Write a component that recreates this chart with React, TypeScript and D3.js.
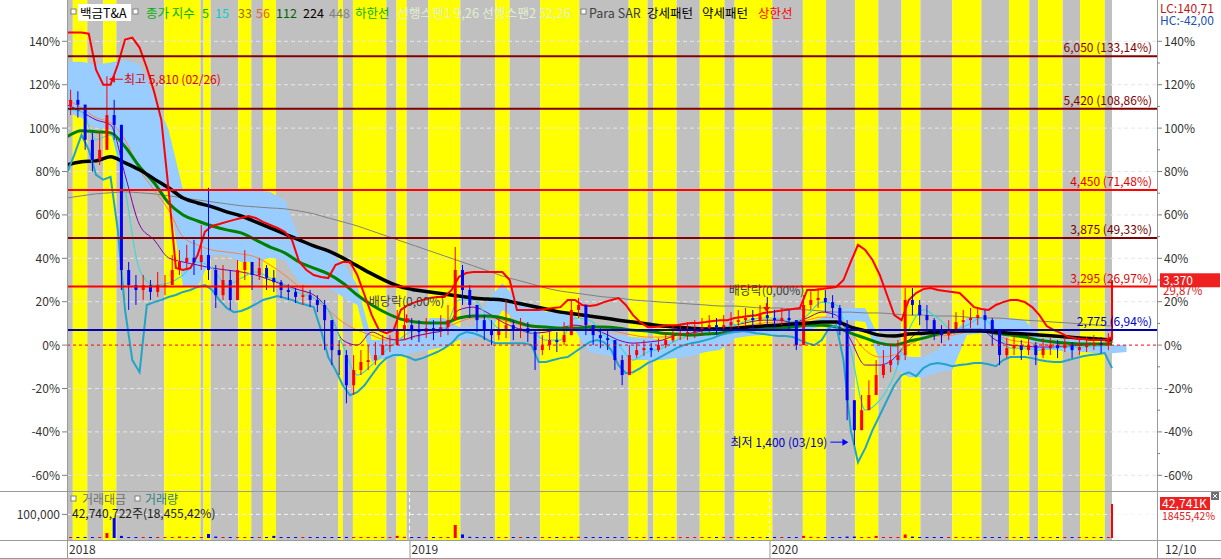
import React from 'react';
import * as d3 from 'd3';

// ---------------- data ----------------
const TOTAL_DAYS = 720; // trading days shown (2018-01-02 .. 2020-12-10)

// regime bands (trading-day index where the shading switches), starting grey
const bandBreaks = [0, 4, 14, 25, 34, 67, 92, 94, 99, 118, 127, 135, 144, 187, 190, 197, 220, 227, 234, 249, 271, 295, 305, 326, 353, 387, 400, 404, 420, 436, 453, 460, 486, 507, 523, 543, 559, 575, 588, 610, 630, 649, 663, 669, 686, 698, 715, 720];
const bandColors = ['#c0c0c0', '#ffff00'];

// weekly candles, % vs base price (last entry = final day 12/10)
const weekClose = [113, 110.8, 94.6, 85.4, 90, 106, 101.5, 34.6, 27.7, 25.4,
  27.7, 24.5, 27.7, 27.7, 34.6, 38.3, 40.2, 38.3, 41.5, 34.6,
  23, 30, 20.8, 34.6, 38.3, 32.3, 35.5, 31, 29, 25.4,
  24.5, 22.2, 23, 20.8, 18.5, 11.5, -2.3, -4.6, -18.5, -11.5,
  -7.8, -6.9, -4.6, 0, 0, 6.9, 9.2, 6.9, 6, 7.8,
  6.9, 8.3, 11.5, 34.6, 25.4, 18.5, 11.5, 6.9, 4.6, 6.9,
  9.2, 6.9, 7.8, 6, -2.3, 0, 2.3, 1.4, 4.6, 16.2,
  18.5, 9.2, 4.6, 3.2, 2.3, -6.9, -13.8, -4.6, -2.3, -1.4,
  -2.3, 0, 2.3, 4.6, 5.5, 6, 6.9, 7.8, 9.2, 8.3,
  9.2, 10.6, 11.5, 12.5, 11.5, 13.8, 12.5, 11.5, 12.5, 11.5,
  0, 18.5, 20.8, 21.7, 19.8, 17.1, 9.2, -25.4, -39.2, -30,
  -23, -13.8, -9.2, -6.9, -4.6, 20.8, 18.5, 13.8, 11.5, 6.9,
  4.6, 6.9, 10.6, 11.5, 12.5, 13.8, 11.5, 6.9, -4.6, -1.4,
  0, -2.3, 0, -4.6, -1.4, 0, -1.4, 0, -2.3, -0.9,
  0, 0.9, 0, 2.3, 29.87];
const weekHigh = [117.7, 117, 110.8, 97.8, 97.8, 123.9, 113, 41.5, 38.3, 32.3,
  32.3, 30, 33.7, 32.3, 41.5, 43.8, 46.2, 48.5, 55.4, 72.5,
  36.9, 36.9, 34.6, 39.2, 43.8, 38.3, 40.2, 36.9, 34.6, 30,
  28, 26.3, 27.7, 25.4, 23, 20.8, 6.9, 2.3, -2.3, -4.6,
  -2.3, 0, 1.4, 4.6, 4.6, 16.2, 18.5, 12.5, 11.5, 12.5,
  11.5, 13.8, 18.5, 45.2, 36.9, 27.7, 18.5, 13.8, 11.5, 12.5,
  20.8, 11.5, 12.5, 10.6, 6.9, 4.6, 6.9, 6, 10.6, 20.8,
  21.7, 18.5, 9.2, 7.8, 6.9, 0, -4.6, 0, 0.9, 2.3,
  0.9, 3.2, 6, 9.2, 9.2, 10.6, 11.5, 12.5, 13.8, 12.5,
  13.8, 15.2, 16.2, 17.1, 16.2, 18.5, 22.2, 16.2, 17.1, 16.2,
  11.5, 23, 25.4, 26.3, 25.4, 23, 18.5, 11.5, -25.4, -23,
  -16.2, -6.9, -2.3, 0, 2.3, 26.3, 26.3, 20.8, 18.5, 12.5,
  9.2, 11.5, 15.2, 16.2, 17.1, 17.1, 16.2, 12.5, 2.3, 3.2,
  4.6, 2.3, 4.6, 1.4, 3.2, 3.2, 2.3, 3.7, 1.4, 3.2,
  3.7, 4.6, 3.7, 5.5, 29.87];
const weekLow = [106, 104.8, 90, 80, 83, 99.2, 94.6, 25.4, 16.2, 18.5,
  20.8, 20.8, 22.2, 23, 27.7, 32.3, 34.6, 32.3, 34.6, 30,
  17.1, 20.8, 16.2, 27.7, 30, 25.4, 30, 25.4, 24.5, 21.7,
  20.8, 19.4, 18.5, 17.5, 15.2, -2.3, -9.2, -13.8, -26.8, -23,
  -13.8, -11.5, -9.2, -4.6, -3.2, 0, 2.3, 2.3, 1.4, 3.2,
  2.3, 3.7, 4.6, 20.8, 18.5, 12.5, 6, 2.3, 0, 2.3,
  3.2, 2.3, 3.2, 1.4, -11.5, -4.6, -2.3, -3.2, 0, 9.2,
  12.5, 4.6, 0, -1.4, -2.3, -11.5, -18.5, -12.5, -6, -5,
  -5.5, -3.2, -1.4, 1.4, 2.3, 2.3, 3.2, 4.2, 5.5, 4.6,
  5.5, 6.9, 7.8, 8.8, 7.8, 9.2, 9.2, 7.8, 9.2, 6.9,
  -2.3, 2.3, 16.2, 17.1, 15.2, 12.5, 4.6, -34.6, -46.1, -36.9,
  -27.7, -20.8, -15.2, -12.5, -9.2, -6.9, 13.8, 9.2, 6.9, 2.3,
  0.9, 2.3, 6, 6.9, 7.8, 9.2, 6, 0, -9.2, -6,
  -4.6, -6.9, -4.6, -9.2, -6, -4.6, -6, -3.2, -6, -4.6,
  -3.2, -2.3, -3.7, -2.3, 0.9];
// weekly trading value (million won)
const weekValue = [3000, 2500, 3500, 2800, 4000, 21000, 84700, 9000, 4000, 3000,
  2500, 2000, 2200, 2500, 3000, 6000, 3000, 2500, 4000, 17000,
  6000, 3000, 2500, 3500, 3000, 2500, 2000, 2500, 9000, 3000,
  2000, 1800, 2000, 1800, 2000, 3000, 4000, 3000, 4500, 3500,
  2500, 2000, 2000, 2000, 2500, 9000, 5000, 2500, 2000, 2000,
  2000, 2500, 3000, 55000, 15000, 5000, 3000, 2000, 2000, 2000,
  4000, 2000, 2000, 1800, 3000, 2000, 1800, 1800, 2000, 5000,
  5000, 2500, 2000, 1800, 1800, 3000, 4000, 2500, 2000, 1800,
  1800, 1800, 1800, 1800, 1800, 1800, 1800, 1800, 2000, 1800,
  1800, 2000, 2000, 2000, 1800, 2000, 3000, 1800, 1800, 1800,
  3000, 9000, 5000, 3000, 2500, 2000, 2500, 6000, 6000, 4000,
  3000, 9000, 3000, 2500, 2500, 15000, 6000, 3000, 2500, 2000,
  1800, 1800, 2000, 2000, 2000, 2500, 2000, 2000, 3000, 2000,
  1800, 1800, 1800, 2000, 1800, 1800, 1800, 1800, 1800, 1800,
  1800, 1800, 1800, 2000, 144036];

// envelope bands, every 5 trading days
const upperBand = [144, 144, 144, 143.5, 126.9, 120, 120, 129.2, 140.8, 141.7,
  137.1, 127.8, 116.8, 103.8, 71.5, 35.5, 34.6, 35.5, 41.5, 52.2,
  54.9, 55.8, 56.8, 57.7, 58.6, 59.5, 58.6, 56.8, 55.4, 54,
  52.2, 48.5, 38.3, 34.6, 32.3, 31.4, 30.9, 36.9, 38.3, 38.3,
  32.3, 23.1, 13.8, 6.9, 5.5, 6.9, 16.2, 18.5, 19.8, 20.8,
  21.7, 22.2, 22.2, 25.4, 31.4, 33.2, 33.7, 33.7, 33.7, 33.7,
  33.7, 30, 16.2, 16.2, 16.2, 16.2, 16.6, 17.1, 17.5, 20.8,
  20.8, 18.5, 18, 18.5, 19.8, 20.8, 21.7, 18.5, 13.8, 10.6,
  8.3, 8.3, 8.8, 9.2, 9.2, 9.7, 10.2, 10.2, 10.6, 11.1,
  11.5, 11.5, 12.5, 12.9, 13.4, 13.8, 14.8, 15.2, 15.7, 16.2,
  16.6, 17.1, 25.4, 25.4, 25.8, 26.3, 26.8, 30, 38.3, 46.2,
  43.8, 39.2, 32.3, 23.1, 13.8, 11.5, 20.8, 24, 25.8, 26.3,
  25.4, 24.9, 24.5, 24, 20.8, 17.5, 16.6, 16.2, 18.5, 19.8,
  20.8, 20.8, 19.8, 17.5, 13.8, 8.8, 6.9, 5.5, 3.7, 3.2,
  2.8, 2.3, 2.3, 2.3, 3.7];
const lowerBand = [79.4, 87.7, 96.9, 90, 78.5, 76.2, 77.5, 53.1, 16.2, -6.9,
  -12.5, 18.5, 19.8, 20.8, 22.2, 23.1, 24.5, 25.4, 26.8, 27.7,
  25.4, 20.8, 17.1, 15.2, 15.7, 17.1, 18.9, 20.8, 21.7, 22.6,
  21.7, 20.8, 19.4, 18.5, 17.5, 6.9, -5.5, -11.5, -18.5, -23.1,
  -21.7, -18.5, -13.8, -9.2, -6, -4.6, -4.6, -5.5, -6.9, -6,
  -4.6, -3.2, -1.4, 0.9, 4.6, 6, 5.5, 4.2, 2.3, 0.9,
  0.9, 0.9, 0.9, 0.9, 0, -7.8, -7.8, -6.9, -6, -5.5,
  -3.2, -0.9, 1.4, 2.3, 1.4, -2.3, -9.2, -12.9, -12.5, -10.6,
  -8.3, -6.9, -5.1, -3.2, -1.4, 0, 0.9, 1.4, 2.3, 3.2,
  4.6, 5.5, 6, 6.5, 6, 5.5, 5.1, 4.6, 4.2, 4.2,
  3.7, 2.3, 0.9, 0, 2.3, 7.8, 9.2, -6.9, -39.2, -54,
  -47.5, -39.2, -32.3, -25.4, -18.5, -13.8, -12.5, -14.3, -10.6, -8.8,
  -8.3, -8.8, -9.7, -9.2, -8.8, -8.3, -8.3, -8.8, -9.7, -6.9,
  -5.5, -5.5, -5.5, -6, -6.9, -7.4, -7.8, -7.8, -6.9, -6,
  -5.1, -4.6, -4.2, -3.7, -10.6];

// ichimoku cloud, every 10 trading days (runs slightly past last day)
const cloudTop = [130.6, 130.6, 129.2, 130.2, 131.5, 129.2, 115.4, 99.2, 71.5, 71.5,
  71.5, 71.5, 71.5, 71.5, 70.6, 66.9, 49.4, 44.8, 42.9, 38.3,
  27.7, 2.3, 2.3, 3.2, 4.2, 12.5, 12.5, 8.3, 8.3, 20.8,
  28.6, 20.8, 18.5, 15.2, 15.2, 13.8, 5.5, 4.6, 4.6, 3.7,
  3.2, 2.3, 2.3, 3.2, 8.3, 8.3, 8.8, 8.8, 9.2, 10.2,
  10.2, 10.6, 12.5, 16.2, 17.1, 17.1, 2.3, 0, -5.5, -5.5,
  -2.3, 4.6, 12.5, 12.9, 11.5, 12.5, 11.5, 3.7, 3.2, 2.3,
  2.3, 0.9, 0, 0];
const cloudBottom = [107.1, 104.8, 100.2, 99.2, 71.5, 71.5, 71.5, 70.6, 26.8, 26.8,
  41.5, 41.5, 38.3, 38.3, 40.2, 39.2, 28.6, 27.7, 26.8, 22.2,
  18.5, -7.8, -6, -5.1, -3.2, -2.3, -0.9, 2.3, 3.2, 4.6,
  16.2, 11.5, 10.2, 8.3, 8.3, 6.9, -3.2, -4.6, -5.5, -6.9,
  -6.9, -6.9, -6, -5.1, -3.2, -2.3, 3.2, 4.2, 4.6, 5.5,
  6, 6.9, 8.8, 11.5, 11.5, 10.6, -7.8, -10.6, -14.8, -14.8,
  -12.5, -11.5, 4.6, 5.5, 3.7, 4.2, 3.7, -2.3, -2.3, -3.2,
  -3.2, -3.7, -3.7, -3.2];

// moving averages, every 10 trading days
const ma15 = [108.5, 107.5, 94.6, 96.9, 71.5, 34.6, 27.7, 28.6, 32.3, 38.3,
  35.5, 27.7, 30.9, 33.7, 30.9, 27.7, 24, 21.7, 16.2, 0,
  -13.8, -9.2, -2.3, 3.2, 6.9, 6.9, 7.8, 20.8, 20.8, 12.5,
  6.9, 6.9, 6, 2.3, 2.3, 12.5, 11.5, 4.6, 0, -6.9,
  -3.2, -1.4, 2.3, 4.6, 6, 7.8, 9.2, 11.5, 12.5, 12.5,
  10.6, 13.8, 19.8, 18.5, -2.3, -30, -25.4, -13.8, 6.9, 16.2,
  12.5, 6.9, 9.2, 12.5, 6.9, -1.4, -1.4, -2.3, -1.4, -0.9,
  -0.9, -0.5, 0];
const ma33 = [110.8, 107.5, 103.8, 101.5, 78.5, 55.4, 48.5, 40.2, 38.3, 36.9,
  35.5, 34.6, 33.7, 32.3, 30, 27.7, 25.4, 23.1, 16.2, 2.3,
  0, 6, 3.2, 2.3, 4.2, 5.5, 6.9, 16.2, 17.5, 14.8,
  10.6, 7.8, 5.5, 6, 7.8, 9.2, 7.8, 5.5, 2.3, 0.9,
  1.4, 2.3, 4.6, 5.5, 6.9, 7.8, 9.2, 10.6, 11.5, 11.5,
  10.6, 12.5, 15.2, 13.8, 2.3, -9.2, -9.2, -6, 2.3, 6.9,
  6, 5.5, 6.9, 6.9, 2.3, 0, -0.5, -0.9, -0.9, -0.5,
  0, 0.5, 0.9];
const ma56 = [113.1, 109.4, 104.8, 102.5, 94.6, 80.8, 71.5, 62.3, 49.8, 46.2,
  43.8, 42.9, 42, 40.6, 36.9, 32.3, 26.8, 21.7, 16.2, 10.6,
  6.9, 4.6, 2.3, 2.3, 3.7, 5.5, 7.8, 10.6, 12.5, 12.5,
  11.5, 9.7, 8.3, 7.8, 8.3, 8.8, 8.8, 7.8, 6, 4.6,
  3.7, 3.7, 4.6, 5.5, 6.5, 7.4, 8.3, 9.2, 10.2, 10.6,
  10.6, 11.5, 12.9, 12.5, 6, -2.3, -5.5, -4.6, 0, 3.2,
  4.2, 4.6, 6, 6.9, 4.6, 2.3, 1.4, 0.5, 0, 0,
  0, 0.5, 0.9];
const ma112 = [96, 98.8, 98.3, 97.8, 91.4, 82.2, 74.8, 65.5, 60, 57.2,
  54.9, 53.1, 51.7, 48.5, 45.2, 42.5, 38.3, 35.5, 32.8, 28.6,
  23.1, 18.5, 14.8, 12, 10.6, 10.2, 10.2, 12.5, 13.4, 13.4,
  12.5, 10.6, 8.8, 8.3, 7.8, 7.8, 8.3, 8.3, 7.8, 6.9,
  6.5, 5.5, 5.1, 4.6, 5.1, 5.5, 6.5, 6.9, 7.4, 7.8,
  8.3, 9.2, 9.2, 8.3, 5.5, 3.2, 0.9, 0, 1.8, 3.2,
  5.1, 6.5, 6.9, 6.9, 5.5, 4.6, 3.7, 2.3, 1.4, 0.9,
  0.5, 0.5, 0.5];
const ma224 = [83.1, 84.5, 84.9, 86.8, 84, 80.8, 76.6, 72.5, 67.8, 65.5,
  63.7, 61.4, 59.5, 56.8, 54, 51.2, 48.5, 45.7, 43.4, 40.2,
  36.5, 32.8, 29.5, 26.8, 25.4, 24.5, 23.5, 22.6, 21.7, 21.2,
  20.8, 19.4, 18, 16.6, 15.2, 14.3, 13.4, 12.5, 11.5, 10.6,
  9.7, 8.8, 8.3, 7.8, 7.4, 7.4, 7.8, 8.3, 8.8, 9.2,
  9.7, 10.2, 10.6, 10.6, 8.3, 6.5, 4.6, 4.2, 5.1, 5.5,
  6, 6.5, 6.5, 6.5, 6, 5.5, 5.1, 4.6, 4.2, 3.7,
  3.2, 2.8, 2.3];
const ma448 = [67.8, 68.8, 69.7, 70.2, 70.6, 70.2, 69.7, 68.8, 67.8, 66.9,
  66, 65.1, 64.2, 63.7, 63.2, 62.8, 61.8, 60.5, 58.6, 56.8,
  54.9, 52.6, 50.3, 48, 45.7, 43.4, 41.1, 38.8, 36.5, 34.2,
  31.8, 30, 28.2, 26.3, 24.9, 24, 23.1, 22.2, 21.7, 20.8,
  20.3, 19.8, 19.4, 18.9, 18.5, 18, 18, 17.5, 17.1, 17.1,
  16.6, 16.2, 15.7, 15.2, 15.2, 14.8, 14.8, 14.3, 13.8, 13.8,
  13.4, 13.4, 12.9, 12.5, 12.5, 12, 11.5, 11.1, 10.6, 10.2,
  9.7, 9.2, 8.8];

// price levels (won, % vs base)
const levelPrices = [6050, 5420, 4450, 3875, 3295, 2775];
const levelPcts = [133.14, 108.86, 71.48, 49.33, 26.97, 6.94];
const levelLineColors = ['#800000', '#800000', '#ff0000', '#800000', '#ff0000', '#0000a8'];
const levelTextColors = ['#800000', '#800000', '#e00000', '#700000', '#e00000', '#0000c0'];

const yTicks = [-60, -40, -20, 0, 20, 40, 60, 80, 100, 120, 140];
const xTickDays = [0, 236, 484];
const xTickLabels = ['2018', '2019', '2020'];

const lastPrice = 3370;
const lastPct = 29.87;
const lastVolumeK = 42741;
const highInfo = { pct: 123.9, label: '최고 5,810 (02/26)', week: 5 };
const lowInfo = { pct: -46.1, label: '최저 1,400 (03/19)', week: 108 };
const exDivDays = [234, 482];
const exDivPcts = [10, 15.2];

// ---------------- scales ----------------
const xS = d3.scaleLinear().domain([0, TOTAL_DAYS]).range([67, 1112]);
const yS = d3.scaleLinear().domain([-60, 140]).range([475.3, 41.3]);
const vS = d3.scaleLinear().domain([0, 144036]).range([538, 504]);

const candleDay = (i: number) => (i < weekClose.length - 1 ? 5 * i + 2.5 : TOTAL_DAYS);
const fmtDec = (v: number) => v.toFixed(2).replace('.', ',');

const FONT = "'Noto Sans CJK KR', 'Noto Sans', sans-serif";

export default function App() {
  const line5 = d3.line<number>().x((_, i) => xS(i * 5)).y((d) => yS(d));
  const line10 = d3.line<number>().x((_, i) => xS(i * 10)).y((d) => yS(d)).curve(d3.curveMonotoneX);
  const cloud = d3.area<number>()
    .x((_, i) => xS(i * 10))
    .y0((_, i) => yS(cloudBottom[i]))
    .y1((d) => yS(d));

  const bands = [];
  for (let i = 0; i < bandBreaks.length - 1; i++) {
    bands.push(
      <rect key={'b' + i} x={xS(bandBreaks[i])} y={0} width={xS(bandBreaks[i + 1]) - xS(bandBreaks[i])} height={540} fill={bandColors[i % 2]} />
    );
  }

  const candles = weekClose.map((c, i) => {
    const o = i === 0 ? 110 : weekClose[i - 1];
    const up = c >= o;
    const col = up ? '#ff0000' : '#0000ff';
    const cx = xS(candleDay(i));
    const top = Math.max(o, c), bot = Math.min(o, c);
    const hi = Math.max(weekHigh[i], top), lo = Math.min(weekLow[i], bot);
    const w = i === weekClose.length - 1 ? 2 : 3;
    const bh = Math.max(1, yS(bot) - yS(top));
    return (
      <g key={'c' + i}>
        <line x1={cx} x2={cx} y1={yS(hi)} y2={yS(lo)} stroke={col} strokeWidth={1} />
        <rect x={cx - w / 2} y={yS(top)} width={w} height={bh} fill={col} />
      </g>
    );
  });

  const volBars = weekValue.map((v, i) => {
    const o = i === 0 ? 110 : weekClose[i - 1];
    const col = weekClose[i] >= o ? '#ff0000' : '#0000ff';
    const cx = xS(candleDay(i));
    const h = Math.max(1, vS(0) - vS(v));
    const w = i === weekValue.length - 1 ? 2 : 3;
    return <rect key={'v' + i} x={cx - w / 2} y={vS(0) - h} width={w} height={h} fill={col} />;
  });

  const hx = xS(candleDay(highInfo.week)) + 2;
  const hy = yS(highInfo.pct) + 3;
  const lx = xS(candleDay(lowInfo.week)) - 6;
  const ly = yS(lowInfo.pct) - 3;

  const legend = [
    { t: '종가 지수', x: 146, c: '#00b000' },
    { t: '5', x: 202, c: '#00b000' },
    { t: '15', x: 215, c: '#00d0d0' },
    { t: '33', x: 238, c: '#a07000' },
    { t: '56', x: 256, c: '#e06030' },
    { t: '112', x: 276, c: '#006400' },
    { t: '224', x: 303, c: '#000000' },
    { t: '448', x: 329, c: '#808080' },
    { t: '하한선', x: 355, c: '#00b000' },
    { t: 'Para SAR', x: 589, c: '#404040' },
    { t: '강세패턴', x: 647, c: '#000000' },
    { t: '약세패턴', x: 702, c: '#000000' },
    { t: '상한선', x: 758, c: '#ff0000' },
  ];

  return (
    <svg width={1221} height={559} style={{ position: 'absolute', left: 0, top: 0, background: '#ffffff' }} fontFamily={FONT}>
      <defs>
        <clipPath id="mainClip"><rect x={67} y={0} width={1090} height={491} /></clipPath>
        <clipPath id="volClip"><rect x={67} y={491} width={1090} height={49} /></clipPath>
      </defs>
      <rect x={0} y={0} width={1221} height={559} fill="#ffffff" />
      {bands}

      {/* grid */}
      {yTicks.filter((t) => t !== 0).map((t) => (
        <line key={'g' + t} x1={67} x2={1157} y1={yS(t)} y2={yS(t)} stroke="#e6e6e6" strokeDasharray="4,3" />
      ))}
      {xTickDays.slice(1).map((d) => (
        <line key={'vg' + d} x1={xS(d)} x2={xS(d)} y1={491} y2={540} stroke="#ffffff" strokeDasharray="4,3" />
      ))}
      <line x1={67} x2={1157} y1={vS(100000)} y2={vS(100000)} stroke="#f4f4f4" strokeDasharray="4,3" />

      <g clipPath="url(#mainClip)">
        <path d={cloud(cloudTop) || ''} fill="#99ccff" />
        <path d={line10(ma448) || ''} fill="none" stroke="#808080" strokeWidth={1} />
        <path d={line10(ma56) || ''} fill="none" stroke="#ff8040" strokeWidth={1} />
        <path d={line10(ma33) || ''} fill="none" stroke="#8000a0" strokeWidth={1} />
        <path d={line10(ma15) || ''} fill="none" stroke="#40d8d0" strokeWidth={1.2} />
        <path d={line10(ma112) || ''} fill="none" stroke="#008000" strokeWidth={3} />
        <path d={line10(ma224) || ''} fill="none" stroke="#000000" strokeWidth={3.5} />
        <path d={line5(lowerBand) || ''} fill="none" stroke="#22a4c8" strokeWidth={2} />
        <path d={line5(upperBand) || ''} fill="none" stroke="#ff0000" strokeWidth={2} />
        {candles}
      </g>

      {/* price levels */}
      {levelPrices.map((p, i) => (
        <g key={'l' + p}>
          <line x1={67} x2={1157} y1={yS(levelPcts[i])} y2={yS(levelPcts[i])} stroke={levelLineColors[i]} strokeWidth={2} />
          <text x={1152} y={yS(levelPcts[i]) - 4} textAnchor="end" fontSize={12} fill={levelTextColors[i]}>
            {`${d3.format(',')(p)} (${fmtDec(levelPcts[i])}%)`}
          </text>
        </g>
      ))}
      <line x1={67} x2={1157} y1={yS(0)} y2={yS(0)} stroke="#ff0000" strokeDasharray="3,3" strokeWidth={1} />

      {/* annotations */}
      <line x1={hx + 5} x2={hx + 14} y1={hy} y2={hy} stroke="#ff0000" strokeWidth={1} />
      <path d={`M${hx},${hy} L${hx + 6},${hy - 3.5} L${hx + 6},${hy + 3.5} Z`} fill="#ff0000" />
      <text x={hx + 15} y={hy + 4.5} fontSize={12} fill="#e00000">{highInfo.label}</text>

      <line x1={lx - 18} x2={lx - 5} y1={ly} y2={ly} stroke="#0000ff" strokeWidth={1} />
      <path d={`M${lx},${ly} L${lx - 6},${ly - 3.5} L${lx - 6},${ly + 3.5} Z`} fill="#0000ff" />
      <text x={lx - 21} y={ly + 4.5} fontSize={12} fill="#0000c0" textAnchor="end">{lowInfo.label}</text>

      {exDivDays.map((d, i) => {
        const ex = xS(d), ey = yS(exDivPcts[i]);
        return (
          <g key={'ex' + d}>
            <line x1={ex} x2={ex} y1={ey - 9} y2={ey - 4} stroke="#ff0000" strokeWidth={1.5} />
            <path d={`M${ex - 3.5},${ey - 5} L${ex + 3.5},${ey - 5} L${ex},${ey} Z`} fill="#ff0000" />
            <text x={ex} y={ey - 17} fontSize={12} fill="#404040" textAnchor="middle">배당락(0,00%)</text>
          </g>
        );
      })}

      {/* volume */}
      <g clipPath="url(#volClip)">{volBars}</g>

      {/* legend */}
      <rect x={71} y={9} width={5} height={5} fill="#ffffff" stroke="#808080" strokeWidth={1} />
      <rect x={78} y={4} width={53} height={17} fill="#ffffff" />
      <text x={80} y={18} fontSize={12.5} fill="#000000">백금T&amp;A</text>
      <rect x={133} y={9} width={5} height={5} fill="#ffffff" stroke="#808080" strokeWidth={1} />
      {legend.map((l) => (
        <text key={l.t} x={l.x} y={18} fontSize={12.5} fill={l.c}>{l.t}</text>
      ))}
      <text x={397} y={18} fontSize={12.5} fill="#e2f0cf" textLength={174} lengthAdjust="spacingAndGlyphs">선행스팬1 9,26 선행스팬2 52,26</text>
      <rect x={581} y={9} width={5} height={5} fill="#ffffff" stroke="#808080" strokeWidth={1} />

      <rect x={71} y={496} width={5} height={5} fill="#ffffff" stroke="#808080" strokeWidth={1} />
      <text x={82} y={504} fontSize={12} fill="#707070">거래대금</text>
      <rect x={135} y={496} width={5} height={5} fill="#ffffff" stroke="#808080" strokeWidth={1} />
      <text x={145} y={504} fontSize={12} fill="#308080">거래량</text>
      <text x={72} y={518} fontSize={12} fill="#202020">42,740,722주(18,455,42%)</text>

      {/* frame */}
      <line x1={0} x2={1221} y1={491.5} y2={491.5} stroke="#9a9a9a" />
      <line x1={0} x2={1221} y1={540.5} y2={540.5} stroke="#9a9a9a" />
      <line x1={0} x2={1221} y1={558.5} y2={558.5} stroke="#9a9a9a" />
      <line x1={67.5} x2={67.5} y1={0} y2={559} stroke="#9a9a9a" />
      <line x1={1157.5} x2={1157.5} y1={0} y2={559} stroke="#9a9a9a" />

      {/* y axes */}
      {yTicks.map((t) => (
        <g key={'yt' + t}>
          <line x1={62} x2={67} y1={yS(t)} y2={yS(t)} stroke="#808080" />
          <text x={60} y={yS(t) + 4.5} fontSize={12} fill="#333333" textAnchor="end">{t}%</text>
          <line x1={1157} x2={1162} y1={yS(t)} y2={yS(t)} stroke="#808080" />
          <text x={1164} y={yS(t) + 4.5} fontSize={12} fill="#333333">{t}%</text>
        </g>
      ))}
      {yTicks.slice(0, -1).map((t) => (
        <line key={'ym' + t} x1={1157} x2={1160} y1={yS(t + 10)} y2={yS(t + 10)} stroke="#808080" />
      ))}
      <line x1={62} x2={67} y1={vS(100000)} y2={vS(100000)} stroke="#808080" />
      <text x={60} y={vS(100000) + 4.5} fontSize={12} fill="#333333" textAnchor="end">100,000</text>

      <text x={1160} y={13} fontSize={12} fill="#c01818">LC:140,71</text>
      <text x={1160} y={25} fontSize={12} fill="#2050b0">HC:-42,00</text>

      <rect x={1160} y={yS(lastPct) - 7} width={60} height={14} fill="#ee2020" />
      <text x={1163} y={yS(lastPct) + 4.5} fontSize={12} fill="#ffffff">{d3.format(',')(lastPrice)}</text>
      <text x={1163} y={yS(lastPct) + 15} fontSize={11.5} fill="#e02020">{fmtDec(lastPct)}%</text>

      <rect x={1160} y={vS(144036) - 7} width={50} height={13} fill="#ee2020" />
      <text x={1162} y={vS(144036) + 4} fontSize={12} fill="#ffffff" textLength={45} lengthAdjust="spacingAndGlyphs">{d3.format(',')(lastVolumeK)}K</text>
      <rect x={1211} y={492} width={8} height={8} fill="#707070" />
      <path d="M1213,494 L1217,498 M1217,494 L1213,498" stroke="#ffffff" strokeWidth={1} />
      <text x={1162} y={520} fontSize={11} fill="#e02020" textLength={53} lengthAdjust="spacingAndGlyphs">18455,42%</text>

      {/* x axis */}
      {xTickDays.map((d, i) => (
        <g key={'xt' + d}>
          <line x1={xS(d) + 0.5} x2={xS(d) + 0.5} y1={540} y2={559} stroke="#9a9a9a" />
          <text x={xS(d) + 2} y={554} fontSize={12} fill="#333333">{xTickLabels[i]}</text>
        </g>
      ))}
      <text x={1165} y={554} fontSize={12} fill="#333333">12/10</text>
    </svg>
  );
}
